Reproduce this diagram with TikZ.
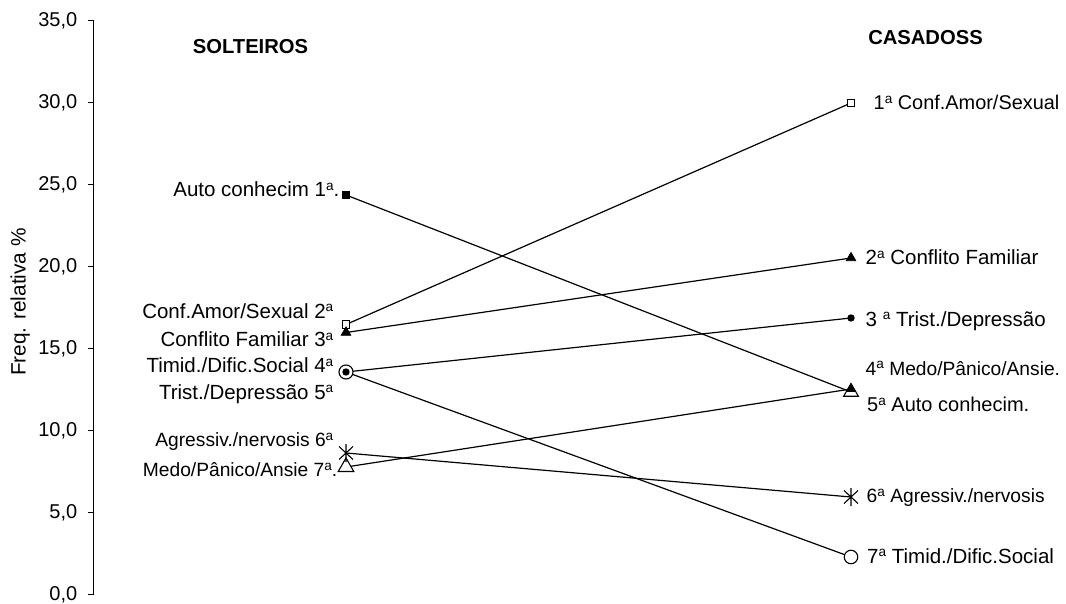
\documentclass[tikz,border=0pt]{standalone}
\usepackage{fontspec}
\setmainfont{Liberation Sans}
\usetikzlibrary{shapes.geometric}
\newcommand\oa{\raisebox{6.4pt}{\fontsize{13.6}{14}\selectfont a}}
\begin{document}
\begin{tikzpicture}[x=1pt,y=-1pt,font=\fontsize{20.5}{23}\selectfont,
  axisline/.style={line width=0.9pt,black},
  dataline/.style={line width=1.2pt,black},
  ticklab/.style={anchor=base east,inner sep=0pt,font=\fontsize{20}{22}\selectfont},
  llab/.style={anchor=base east,inner sep=0pt},
  rlab/.style={anchor=base west,inner sep=0pt},
  narrow/.style={font=\fontsize{19.2}{22}\selectfont},
  title/.style={anchor=base,inner sep=0pt,font=\fontsize{20.2}{22}\selectfont\bfseries},
  fsq/.style={rectangle,draw,fill=black,line width=0.8pt,minimum size=7.5pt,inner sep=0pt},
  osq/.style={rectangle,draw,fill=white,line width=1pt,minimum size=7.5pt,inner sep=0pt},
  ftri/.style={regular polygon,regular polygon sides=3,draw,fill=black,line width=0.8pt,minimum size=11pt,inner sep=0pt},
  otri/.style={regular polygon,regular polygon sides=3,draw,fill=white,line width=1.1pt,minimum size=18pt,inner sep=0pt},
  ocirc/.style={circle,draw,fill=white,line width=1.1pt,minimum size=14pt,inner sep=0pt},
  fcirc/.style={circle,fill=black,minimum size=7.4pt,inner sep=0pt},
  star6/.pic={\draw[line width=1.1pt] (-7pt,-6.5pt)--(7pt,6.5pt) (-7pt,6.5pt)--(7pt,-6.5pt) (0pt,-9pt)--(0pt,9pt);}
]
\useasboundingbox (0,0) rectangle (1066,604);

% axis
\draw[axisline] (93.7,20) -- (93.7,594);
\foreach \v/\t in {0/{0,0},5/{5,0},10/{10,0},15/{15,0},20/{20,0},25/{25,0},30/{30,0},35/{35,0}}{
  \pgfmathsetmacro\yy{594-16.4*\v}
  \draw[axisline] (88,\yy) -- (93.7,\yy);
  \node[ticklab] at (77.5,\yy+6.9) {\t};
}
\node[anchor=base,inner sep=0pt,rotate=90,font=\fontsize{20.8}{23}\selectfont] (ytitle) at (25.5,302) {Freq. relativa \%};

% titles
\node[title] (tS) at (250.5,54) {SOLTEIROS};
\node[title] (tC) at (925.5,45) {CASADOSS};

% data points
\coordinate (LA) at (346,195);
\coordinate (LB) at (346,324.5);
\coordinate (LC) at (346,332.5);
\coordinate (LD) at (346,372);
\coordinate (LE) at (346,453);
\coordinate (LF) at (346,467);

\coordinate (RA) at (851,103);
\coordinate (RB) at (851,258);
\coordinate (RC) at (851,318);
\coordinate (RD) at (851,389);
\coordinate (RE) at (851,392);
\coordinate (RF) at (851,497);
\coordinate (RG) at (851,557);

% lines
\draw[dataline] (LA) -- (RE);
\draw[dataline] (LB) -- (RA);
\draw[dataline] (LC) -- (RB);
\draw[dataline] (LD) -- (RC);
\draw[dataline] (LD) -- (RG);
\draw[dataline] (LE) -- (RF);
\draw[dataline] (LF) -- (RD);

% markers left
\node[fsq] (mLA) at (LA) {};
\node[osq] (mLB) at (LB) {};
\node[ftri] (mLC) at (LC) {};
\node[ocirc] (mLD) at (LD) {};
\node[fcirc] (mLD2) at (LD) {};
\node[otri] (mLF) at (LF) {};
\pic at (LE) {star6};

% markers right
\node[osq] (mRA) at (RA) {};
\node[ftri] (mRB) at (RB) {};
\node[fcirc] (mRC) at (RC) {};
\node[otri,minimum size=17pt] (mRE) at (RE) {};
\node[ftri,minimum size=10pt] (mRD) at (RD) {};
\pic at (RF) {star6};
\node[ocirc,minimum size=13.5pt] (mRG) at (RG) {};

% left labels
\node[llab] (lA) at (339.5,196.7) {Auto conhecim 1\oa.};
\node[llab] (lB) at (333.5,318.3) {Conf.Amor/Sexual 2\oa};
\node[llab] (lC) at (333.5,346.7) {Conflito Familiar 3\oa};
\node[llab] (lD) at (333.5,372.7) {Timid./Dific.Social 4\oa};
\node[llab] (lE) at (333.5,399.3) {Trist./Depressão 5\oa};
\node[llab,narrow] (lF) at (333.5,446.7) {Agressiv./nervosis 6\oa};
\node[llab,narrow] (lG) at (337.5,476.7) {Medo/Pânico/Ansie 7\oa.};

% right labels
\node[rlab,font=\fontsize{19.9}{22}\selectfont] (rA) at (873.5,110) {1\oa\ Conf.Amor/Sexual};
\node[rlab] (rB) at (865.5,265) {2\oa\ Conflito Familiar};
\node[rlab] (rC) at (865.5,326) {3 \oa\ Trist./Depressão};
\node[rlab,narrow] (rD) at (865.5,375) {4\oa\ Medo/Pânico/Ansie.};
\node[rlab,font=\fontsize{20}{22}\selectfont] (rE) at (867,411.7) {5\oa\ Auto conhecim.};
\node[rlab,narrow] (rF) at (866.5,502.7) {6\oa\ Agressiv./nervosis};
\node[rlab] (rG) at (867,563.3) {7\oa\ Timid./Dific.Social};
\end{tikzpicture}
\end{document}
